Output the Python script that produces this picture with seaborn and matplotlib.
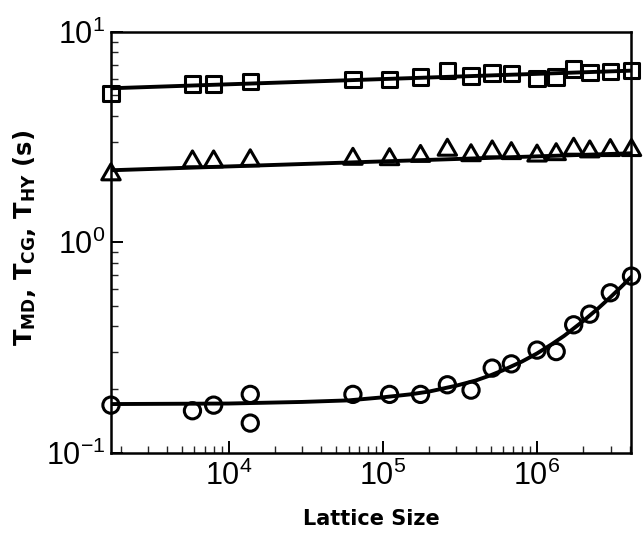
import matplotlib
matplotlib.use('Agg')
import matplotlib.pyplot as plt
import numpy as np
import pandas as pd
import seaborn as sns

# lattice sizes (n^3 cells)
lattice = [1728, 5832, 8000, 13824, 64000, 110592, 175616, 262144, 373248,
           512000, 681472, 1000000, 1331000, 1728000, 2197000, 2985984, 4096000]

# timings (s)
t_square = [5.11, 5.65, 5.65, 5.82, 5.93, 5.93, 6.12, 6.57, 6.16, 6.40, 6.35,
            6.00, 6.12, 6.65, 6.42, 6.50, 6.55]
t_triangle = [2.10, 2.42, 2.42, 2.45, 2.49, 2.48, 2.57, 2.75, 2.59, 2.70, 2.65,
              2.58, 2.62, 2.78, 2.70, 2.74, 2.74]
t_circle = [0.168, 0.158, 0.168, 0.189, 0.189, 0.189, 0.189, 0.210, 0.198,
            0.252, 0.264, 0.307, 0.302, 0.405, 0.455, 0.575, 0.690]
# second run at 24^3
extra_x = [13824]
extra_circle = [0.138]

# fitted curves
fit_line_x = [1728, 4096000]
fit_square = [5.40, 6.55]
fit_triangle = [2.20, 2.65]
fit_circle_x = [1728, 1e4, 3e4, 6e4, 1e5, 1.5e5, 2e5, 3e5, 4e5, 5e5, 6e5, 8e5,
                1e6, 1.25e6, 1.5e6, 2e6, 2.5e6, 3e6, 3.5e6, 4096000]
fit_circle = [0.170, 0.171, 0.174, 0.177, 0.183, 0.189, 0.195, 0.208, 0.220,
              0.233, 0.246, 0.271, 0.296, 0.328, 0.359, 0.423, 0.486, 0.549,
              0.612, 0.686]

sns.set_theme(style='white')
plt.rcParams['font.family'] = ['Liberation Sans', 'DejaVu Sans']
plt.rcParams['mathtext.fontset'] = 'custom'
plt.rcParams['mathtext.rm'] = 'Liberation Sans'
plt.rcParams['mathtext.it'] = 'Liberation Sans:italic'
plt.rcParams['mathtext.bf'] = 'DejaVu Sans:bold'
plt.rcParams['axes.unicode_minus'] = False

fig = plt.figure(figsize=(6.43, 5.38), dpi=100)
ax = fig.add_axes([0.1726, 0.1589, 0.8095, 0.7816])

lw = 2.8
sns.lineplot(x=fit_line_x, y=fit_square, color='black', lw=lw, ax=ax)
sns.lineplot(x=fit_line_x, y=fit_triangle, color='black', lw=lw, ax=ax)
sns.lineplot(x=fit_circle_x, y=fit_circle, color='black', lw=lw, ax=ax)

mk = dict(facecolor='none', edgecolor='black', linewidth=2.2, clip_on=False, zorder=5)
sns.scatterplot(x=lattice, y=t_square, marker='s', s=125, ax=ax, **mk)
sns.scatterplot(x=lattice, y=t_triangle, marker=(3, 0, 0), s=235, ax=ax, **mk)
sns.scatterplot(x=lattice, y=t_circle, marker='o', s=137, ax=ax, **mk)
sns.scatterplot(x=extra_x, y=extra_circle, marker='o', s=137, ax=ax, **mk)

ax.set_xscale('log')
ax.set_yscale('log')
ax.set_xlim(1728, 4096000)
ax.set_ylim(0.1, 10)

for sp in ax.spines.values():
    sp.set_linewidth(1.8)
    sp.set_color('black')
ax.tick_params(which='major', direction='in', length=8.4, width=1.4,
               labelsize=22, colors='black', bottom=True, left=True,
               top=False, right=False)
ax.tick_params(which='minor', direction='in', length=4.8, width=1.0,
               bottom=True, left=True, top=False, right=False)
ax.tick_params(axis='x', which='major', pad=6)
ax.tick_params(axis='y', which='major', pad=4)

ax.set_xlabel('Lattice Size', fontsize=15, fontweight='bold',
              family='DejaVu Sans', color='black')
ax.set_ylabel(r'T$_{\mathbf{MD}}$, T$_{\mathbf{CG}}$, T$_{\mathbf{HY}}$ (s)',
              fontsize=17.5, fontweight='bold', family='DejaVu Sans',
              color='black')
ax.xaxis.set_label_coords(0.5, -0.135)
ax.yaxis.set_label_coords(-0.14, 0.51)

fig.savefig('out.png', dpi=100)
